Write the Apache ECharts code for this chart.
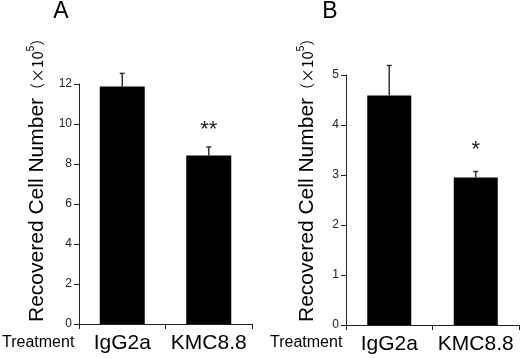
<!DOCTYPE html>
<html>
<head>
<meta charset="utf-8">
<script src="https://cdn.jsdelivr.net/npm/echarts@6/dist/echarts.min.js"></script>
<style>
  html, body { margin: 0; padding: 0; background: #fff; }
  #chart { width: 520px; height: 358px; }
</style>
</head>
<body>
<div id="chart"></div>
<script>
// data (x10^5 cells)
const categories = ['IgG2a', 'KMC8.8'];
const meanA = [11.87, 8.43];
const upperA = [12.53, 8.85];
const marksA = ['', '**'];
const meanB = [4.59, 2.95];
const upperB = [5.19, 3.07];
const marksB = ['', '*'];

const FONT = '"Liberation Sans", Arial, sans-serif';
const AXIS = '#222';

const myEcharts = echarts.init(document.getElementById('chart'));

// error bar (upper only) + significance mark above it
function errorSeries(axisIdx, means, uppers, marks, markGap) {
    return {
        type: 'custom',
        xAxisIndex: axisIdx,
        yAxisIndex: axisIdx,
        data: means.map((m, i) => [i, m, uppers[i]]),
        z: 5,
        renderItem(params, api) {
            const base = api.coord([api.value(0), api.value(1)]);
            const top = api.coord([api.value(0), api.value(2)]);
            const x = base[0];
            return {
                type: 'group',
                children: [{
                    type: 'line',
                    shape: { x1: x, y1: base[1], x2: x, y2: top[1] },
                    style: { stroke: '#333', lineWidth: 1.5 }
                }, {
                    type: 'line',
                    shape: { x1: x - 2.5, y1: top[1], x2: x + 2.5, y2: top[1] },
                    style: { stroke: '#333', lineWidth: 1.5 }
                }, {
                    type: 'text',
                    x: x,
                    y: top[1] - markGap,
                    style: {
                        text: marks[params.dataIndex],
                        fill: '#222',
                        font: '22px ' + FONT,
                        align: 'center',
                        verticalAlign: 'middle'
                    }
                }]
            };
        }
    };
}

function xAxisOf(gridIdx) {
    return {
        type: 'category',
        gridIndex: gridIdx,
        data: categories,
        axisLine: { show: true, lineStyle: { color: AXIS, width: 1 } },
        axisTick: { show: true, length: 5, lineStyle: { color: AXIS } },
        axisLabel: { interval: 0, color: '#000', fontSize: 21, fontFamily: FONT, margin: 9 }
    };
}

function yAxisOf(gridIdx, max, interval) {
    return {
        type: 'value',
        gridIndex: gridIdx,
        min: 0,
        max: max,
        interval: interval,
        splitLine: { show: false },
        axisLine: { show: true, lineStyle: { color: AXIS, width: 1 } },
        axisTick: { show: true, length: 5, lineStyle: { color: AXIS } },
        axisLabel: { color: '#222', fontSize: 12, fontFamily: FONT, margin: 7 }
    };
}

function yTitle(x) {
    return {
        type: 'text',
        x: x,
        y: 322,
        rotation: Math.PI / 2,
        style: {
            text: '{a|Recovered Cell Number}{b|（×10}{c|5}{b|）}',
            align: 'left',
            verticalAlign: 'middle',
            fill: '#000',
            rich: {
                a: { fontSize: 21, fontFamily: FONT, verticalAlign: 'middle' },
                b: { fontSize: 15, fontFamily: '"Noto Sans CJK JP", ' + FONT, verticalAlign: 'middle' },
                c: { fontSize: 10, fontFamily: FONT, verticalAlign: 'middle', padding: [0, 0, 12, 0] }
            }
        }
    };
}

const option = {
    backgroundColor: '#fff',
    animation: false,
    grid: [
        { left: 79, right: 268, top: 84, bottom: 34 },
        { left: 346, right: 1, top: 75, bottom: 33 }
    ],
    xAxis: [xAxisOf(0), xAxisOf(1)],
    yAxis: [yAxisOf(0, 12, 2), yAxisOf(1, 5, 1)],
    graphic: [
        { type: 'text', x: 61, y: 12, style: { text: 'A', font: '23px ' + FONT, fill: '#000', align: 'center', verticalAlign: 'middle' } },
        { type: 'text', x: 330, y: 12, style: { text: 'B', font: '23px ' + FONT, fill: '#000', align: 'center', verticalAlign: 'middle' } },
        { type: 'text', x: 2, y: 343, style: { text: 'Treatment', font: '16px ' + FONT, fill: '#000', align: 'left', verticalAlign: 'middle' } },
        { type: 'text', x: 270, y: 343, style: { text: 'Treatment', font: '16px ' + FONT, fill: '#000', align: 'left', verticalAlign: 'middle' } },
        yTitle(37),
        yTitle(307)
    ],
    series: [{
        type: 'bar',
        xAxisIndex: 0,
        yAxisIndex: 0,
        barWidth: 45,
        itemStyle: { color: '#000' },
        data: meanA
    }, {
        type: 'bar',
        xAxisIndex: 1,
        yAxisIndex: 1,
        barWidth: 44,
        itemStyle: { color: '#000' },
        data: meanB
    },
    errorSeries(0, meanA, upperA, marksA, 17),
    errorSeries(1, meanB, upperB, marksB, 22)
    ]
};

myEcharts.setOption(option);
</script>
</body>
</html>
